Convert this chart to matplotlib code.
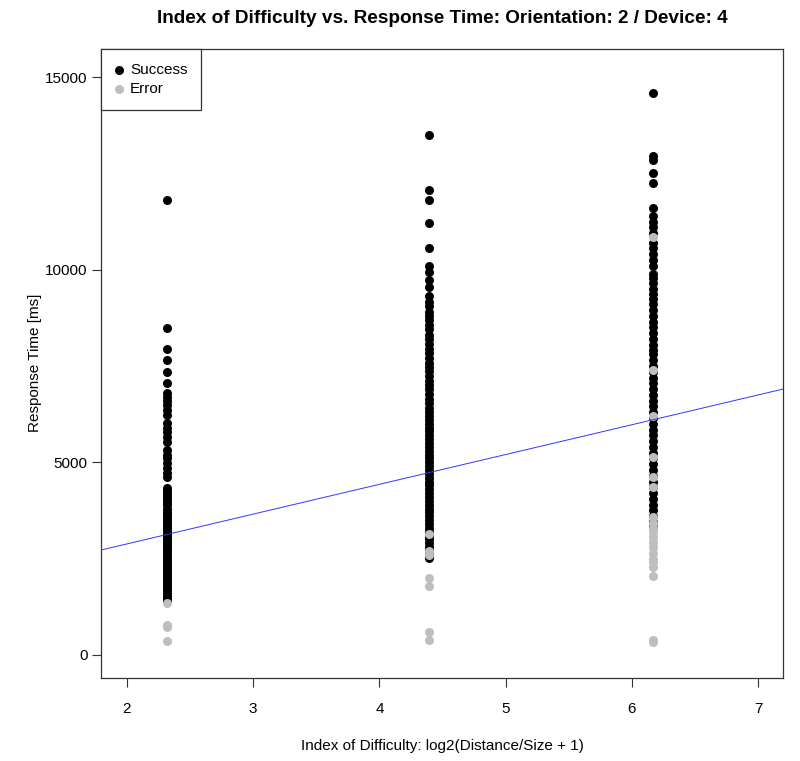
import matplotlib
matplotlib.use('Agg')
import matplotlib.pyplot as plt
import numpy as np

plt.rcParams['font.family'] = ['Liberation Sans', 'DejaVu Sans']

#index of difficulty for the three targets
id_values = [2.32, 4.39, 6.17]

#response times [ms] per target
success_id1 = [11810, 8490, 7940, 7650, 7340, 7060, 6800, 6700, 6600, 6480, 6350, 6230,
               6020, 5900, 5780, 5650, 5520, 5320, 5200, 5100, 4980, 4850, 4720, 4620,
               4330, 4250, 4180, 4100, 4020, 3950, 3880, 3800, 3720, 3650, 3580, 3500,
               3430, 3360, 3290, 3220, 3150, 3080, 3010, 2940, 2870, 2800, 2730, 2660,
               2590, 2520, 2450, 2380, 2310, 2240, 2170, 2100, 2030, 1960, 1890, 1820,
               1750, 1680, 1610, 1540, 1470, 1400]
error_id1 = [1350, 790, 720, 350]

success_id2 = [13490, 12060, 11800, 11200, 10550, 10100, 9950, 9720, 9560, 9320, 9160,
               9050, 8900, 8800, 8700, 8560, 8450, 8300, 8200, 8080, 7950, 7830, 7700,
               7580, 7470, 7360, 7250, 7120, 7000, 6900, 6780, 6650, 6550, 6420, 6300,
               6200, 6100, 6000, 5900, 5800, 5700, 5600, 5500, 5400, 5300, 5200, 5100,
               5000, 4900, 4800, 4700, 4600, 4500, 4400, 4300, 4200, 4100, 4000, 3900,
               3800, 3700, 3600, 3500, 3400, 3300, 3200, 3100, 3000, 2900, 2800, 2700,
               2600, 2520]
error_id2 = [3150, 2700, 2600, 2000, 1800, 600, 400]

success_id3 = [14590, 12950, 12850, 12500, 12250, 11600, 11400, 11250, 11100, 10950,
               10700, 10550, 10400, 10250, 10100, 9900, 9780, 9650, 9500, 9380, 9250,
               9100, 8950, 8800, 8650, 8500, 8350, 8200, 8050, 7920, 7800, 7650, 7500,
               7350, 7200, 7050, 6900, 6750, 6600, 6450, 6300, 6150, 6000, 5850, 5700,
               5550, 5400, 5250, 5100, 4950, 4800, 4650, 4500, 4350, 4200, 4050, 3900,
               3750, 3600, 3450, 3320]
error_id3 = [10850, 7400, 6200, 5140, 4620, 4360, 3580, 3420, 3300, 3180, 3050, 2930,
             2800, 2650, 2500, 2400, 2280, 2050, 380, 340]

#regression line (abline)
fit_intercept = 1337
fit_slope = 773

success_times = [success_id1, success_id2, success_id3]
error_times = [error_id1, error_id2, error_id3]

sx = np.concatenate([[v] * len(t) for v, t in zip(id_values, success_times)])
sy = np.concatenate(success_times)
ex = np.concatenate([[v] * len(t) for v, t in zip(id_values, error_times)])
ey = np.concatenate(error_times)

fig = plt.figure(figsize=(8, 7.61), dpi=100)
ax = fig.add_axes([0.12625, 0.1091, 0.8525, 0.8265])

ax.scatter(sx, sy, s=42, color='black', linewidths=0, label='Success', zorder=2)
ax.scatter(ex, ey, s=42, color='#bebebe', linewidths=0, label='Error', zorder=3)
ax.axline((0, fit_intercept), slope=fit_slope, color='#3333ff', lw=0.7, zorder=4)

ax.set_xlim(1.794, 7.198)
ax.set_ylim(-597, 15727)
ax.set_xticks([2, 3, 4, 5, 6, 7])
ax.set_yticks([0, 5000, 10000, 15000])
ax.tick_params(direction='out', length=6.5, width=0.8, labelsize=11, colors='#333333',
               labelcolor='black')
ax.tick_params(axis='x', pad=11)
ax.tick_params(axis='y', pad=3)
for sp in ax.spines.values():
    sp.set_color('#333333')
    sp.set_linewidth(0.9)

leg = ax.legend(loc='upper left', borderaxespad=0, fancybox=False, edgecolor='#333333',
                framealpha=1, handletextpad=0.5, borderpad=0.9, labelspacing=0.35,
                fontsize=11, handlelength=0.5, scatterpoints=1)
leg.get_frame().set_linewidth(0.9)

fig.text(0.5525, 0.976, 'Index of Difficulty vs. Response Time: Orientation: 2 / Device: 4',
         ha='center', va='center', fontsize=13.7, fontweight='bold')
fig.text(0.5525, 1 - 746 / 761, 'Index of Difficulty: log2(Distance/Size + 1)',
         ha='center', va='center', fontsize=11)
fig.text(35 / 800, 1 - 363 / 761, 'Response Time [ms]', ha='center', va='center',
         rotation=90, fontsize=11)

fig.savefig('out.png', dpi=100)
